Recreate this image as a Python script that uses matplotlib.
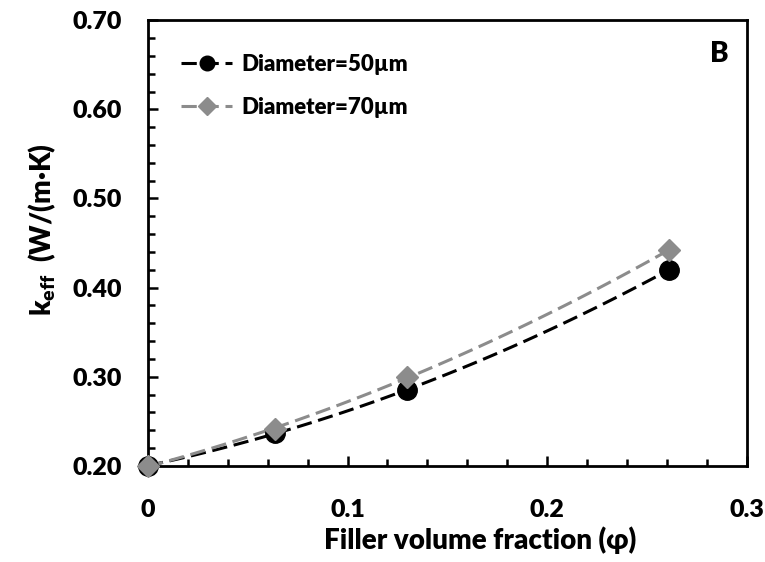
import numpy as np
import matplotlib
matplotlib.use("Agg")
import matplotlib.pyplot as plt
from matplotlib.ticker import MultipleLocator

# data
phi = [0.0, 0.0635, 0.13, 0.261]
k_50um = [0.200, 0.237, 0.285, 0.420]
k_70um = [0.200, 0.241, 0.300, 0.442]

plt.rcParams['font.family'] = ['Lato', 'DejaVu Sans']
plt.rcParams['font.weight'] = 'heavy'
plt.rcParams['axes.labelweight'] = 'heavy'
plt.rcParams['mathtext.fontset'] = 'custom'
plt.rcParams['mathtext.rm'] = 'Lato:heavy'
plt.rcParams['mathtext.bf'] = 'Lato:heavy'

fig = plt.figure(figsize=(7.65, 5.62), dpi=100)
ax = fig.add_axes([0.1935, 0.171, 0.7825, 0.793])

series = [
    (k_50um, 'black', 'o', 14, 10.5, 'Diameter=50\u00b5m'),
    (k_70um, '#8c8c8c', 'D', 11, 9, 'Diameter=70\u00b5m'),
]
dash = (0, (5, 2.2))
xs = np.linspace(phi[0], phi[-1], 100)
for vals, col, mk, ms, ms_leg, lab in series:
    # 2nd order trendline through the points
    p = np.polyfit(phi, vals, 2)
    ax.plot(xs, np.polyval(p, xs), color=col, linestyle=dash, lw=2.2, zorder=2)
    ax.plot(phi, vals, linestyle='none', marker=mk, ms=ms, color=col, zorder=3, clip_on=False)
    ax.plot([], [], color=col, linestyle=dash, lw=2.2, marker=mk, ms=ms_leg, label=lab)

ax.set_xlim(0, 0.3)
ax.set_ylim(0.2, 0.7)
ax.xaxis.set_minor_locator(MultipleLocator(0.02))
ax.yaxis.set_minor_locator(MultipleLocator(0.02))
ax.set_xticks([0, 0.1, 0.2, 0.3])
ax.set_xticklabels(['0', '0.1', '0.2', '0.3'])
ax.set_yticks([0.2, 0.3, 0.4, 0.5, 0.6, 0.7])
ax.set_yticklabels(['0.20', '0.30', '0.40', '0.50', '0.60', '0.70'])
ax.tick_params(which='both', direction='in', width=1.8, labelsize=18)
ax.tick_params(axis='y', pad=19)
ax.tick_params(axis='x', pad=24)
ax.tick_params(which='major', length=7)
ax.tick_params(which='minor', length=5)
for s in ax.spines.values():
    s.set_linewidth(2)

ax.set_xlabel('Filler volume fraction (\u03c6)', fontsize=20, labelpad=4)
ax.set_ylabel('k$_{\\mathrm{eff}}$  (W/(m\u00b7K)', fontsize=20, labelpad=10)
ax.xaxis.label.set_x(0.554)
ax.yaxis.label.set_y(0.53)

leg = ax.legend(loc='upper left', frameon=False, prop={'size': 16, 'weight': 'heavy'},
                handlelength=2.3, borderaxespad=0.9, borderpad=0.6,
                labelspacing=1.0, handletextpad=0.4)
ax.text(0.955, 0.925, 'B', transform=ax.transAxes, fontsize=20,
        ha='center', va='center')

fig.savefig('out.png', dpi=100)
